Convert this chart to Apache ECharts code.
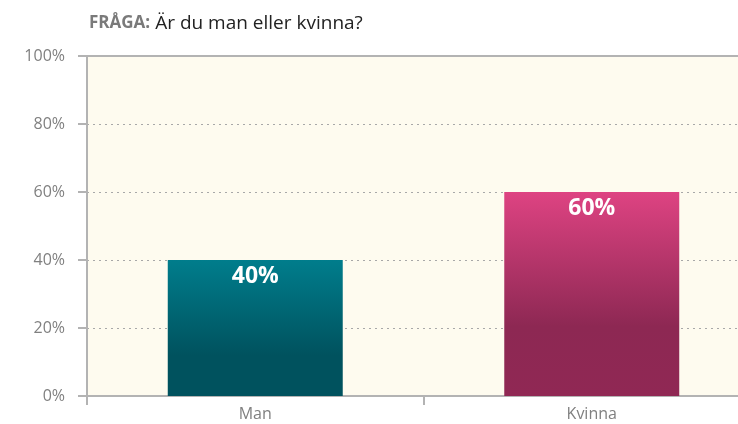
<!DOCTYPE html>
<html>
<head>
<meta charset="utf-8">
<script src="https://cdn.jsdelivr.net/npm/echarts@6/dist/echarts.min.js"></script>
<style>
    html, body { margin: 0; padding: 0; background: #fff; overflow: hidden; }
    /* 图表比窗口宽一些, 右边被裁掉 */
    #chart { width: 760px; height: 424px; }
</style>
</head>
<body>
<div id="chart"></div>
<script>
    // 数据
    var categories = ['Man', 'Kvinna'];
    var values = [40, 60];
    var tickLabels = ['0%', '20%', '40%', '60%', '80%', '100%'];

    // 渐变色 (top -> bottom)
    var barGradients = [
        [['#007D8C', 0], ['#00525E', 0.7], ['#00525E', 1]],
        [['#DE4382', 0], ['#8D2853', 0.66], ['#902854', 1]]
    ];

    function gradient(stops) {
        return new echarts.graphic.LinearGradient(0, 0, 0, 1, stops.map(function (s) {
            return {offset: s[1], color: s[0]};
        }));
    }

    var myChart = echarts.init(document.getElementById('chart'));
    myChart.setOption({
        animation: false,
        title: {
            text: '{b|FRÅGA:} {n|Är du man eller kvinna?}',
            left: 84,
            top: 9,
            textStyle: {
                fontWeight: 'normal',
                rich: {
                    b: {fontFamily: 'Open Sans', fontWeight: 'bold', fontSize: 17, color: '#7a7a7a'},
                    n: {fontFamily: 'Open Sans', fontWeight: 'normal', fontSize: 19, color: '#222'}
                }
            }
        },
        grid: {
            left: 87,
            top: 56,
            bottom: 28,
            right: 0,
            show: true,
            backgroundColor: '#FEFBEF',
            borderWidth: 0
        },
        xAxis: [{
            type: 'category',
            data: categories,
            axisLine: {lineStyle: {color: '#b3b3b3', width: 2}},
            axisTick: {show: true, length: 9, lineStyle: {color: '#b3b3b3', width: 2}},
            axisLabel: {color: '#808080', fontSize: 16, fontFamily: 'Open Sans', margin: 10}
        }, {
            type: 'category',
            position: 'top',
            data: categories,
            axisLine: {lineStyle: {color: '#b3b3b3', width: 2}},
            axisTick: {show: false},
            axisLabel: {show: false}
        }],
        yAxis: {
            type: 'value',
            min: 0,
            max: 100,
            interval: 20,
            axisLine: {show: true, lineStyle: {color: '#b3b3b3', width: 2}},
            axisTick: {show: true, length: 9, lineStyle: {color: '#b3b3b3', width: 2}},
            axisLabel: {
                color: '#808080',
                fontSize: 16,
                fontFamily: 'Open Sans',
                margin: 22,
                formatter: function (v) { return tickLabels[v / 20]; }
            },
            splitLine: {lineStyle: {color: '#a8a8a8', type: [2, 4], width: 1}}
        },
        series: [{
            type: 'bar',
            barWidth: '52%',
            data: values.map(function (v, i) {
                return {value: v, itemStyle: {color: gradient(barGradients[i])}};
            }),
            label: {
                show: true,
                position: 'insideTop',
                distance: 5,
                formatter: '{c}%',
                color: '#fff',
                fontSize: 23,
                fontWeight: 'bold',
                fontFamily: 'Open Sans'
            }
        }]
    });
</script>
</body>
</html>
